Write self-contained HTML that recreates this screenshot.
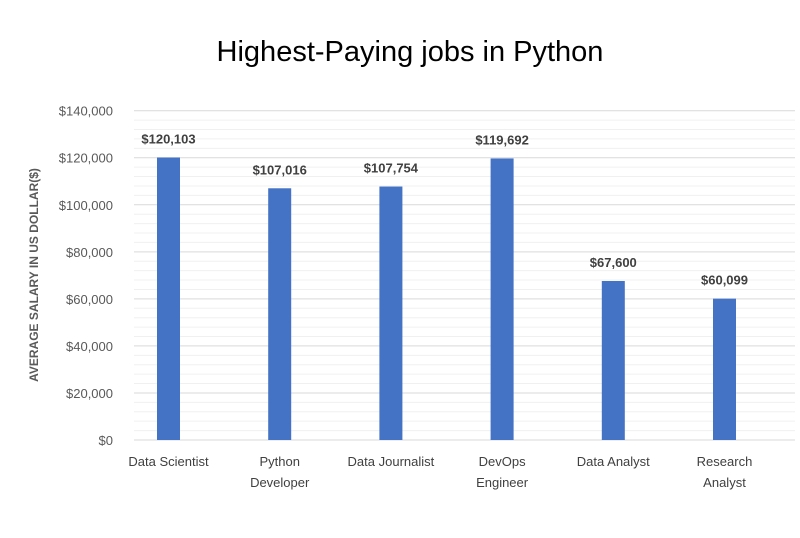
<!DOCTYPE html>
<html><head><meta charset="utf-8"><style>
body{margin:0;background:#fff;width:800px;height:533px;overflow:hidden}
svg text{font-family:"Liberation Sans",sans-serif}
</style></head><body>
<svg id="c" width="800" height="533">
<text x="410" y="61" text-anchor="middle" font-size="29" fill="#000">Highest-Paying jobs in Python</text>
<text transform="translate(38,275) rotate(-90)" text-anchor="middle" font-size="12" font-weight="bold" fill="#595959">AVERAGE SALARY IN US DOLLAR($)</text>
<g id="grid"></g><g id="bars"></g>
</svg>
<script>
const categories=[["Data Scientist"],["Python","Developer"],["Data Journalist"],["DevOps","Engineer"],["Data Analyst"],["Research","Analyst"]];
const values=[120103,107016,107754,119692,67600,60099];
const valueLabels=["$120,103","$107,016","$107,754","$119,692","$67,600","$60,099"];
const ticks=[0,20000,40000,60000,80000,100000,120000,140000];
const tickLabels=["$0","$20,000","$40,000","$60,000","$80,000","$100,000","$120,000","$140,000"];
const NS="http://www.w3.org/2000/svg";
const y=v=>440-v*(329.3/140000);
const x=i=>168.5+i*111.2;
const g=document.getElementById('grid'),b=document.getElementById('bars');
function mk(t,a,p){const e=document.createElementNS(NS,t);for(const k in a)e.setAttribute(k,a[k]);p.appendChild(e);return e;}
for(let v=4000;v<140000;v+=4000){if(v%20000===0)continue;
const l=mk('line',{x1:134,x2:795,y1:y(v),y2:y(v),stroke:'#f0f0f0','stroke-width':1},g);

}
ticks.forEach((t,i)=>{
const l=mk('line',{x1:134,x2:795,y1:y(t),y2:y(t),stroke:'#d9d9d9','stroke-width':1},g);


const tx=mk('text',{x:113,y:y(t)+5,'text-anchor':'end','font-size':13,fill:'#595959'},g);
tx.textContent=tickLabels[i];

});
values.forEach((v,i)=>{
const r=mk('rect',{x:x(i)-11.5,y:y(v),width:23,height:440-y(v),fill:'#4472c4'},b);


const t=mk('text',{x:x(i),y:y(v)-14,'text-anchor':'middle','font-size':13,'font-weight':'bold',fill:'#404040'},b);
t.textContent=valueLabels[i];


categories[i].forEach((s,j)=>{
const c=mk('text',{x:x(i)+(j===0&&categories[i].length===1?0:0),y:466+j*21,'text-anchor':'middle','font-size':13,fill:'#404040'},b);
c.textContent=s;

});});
</script>
</body></html>
